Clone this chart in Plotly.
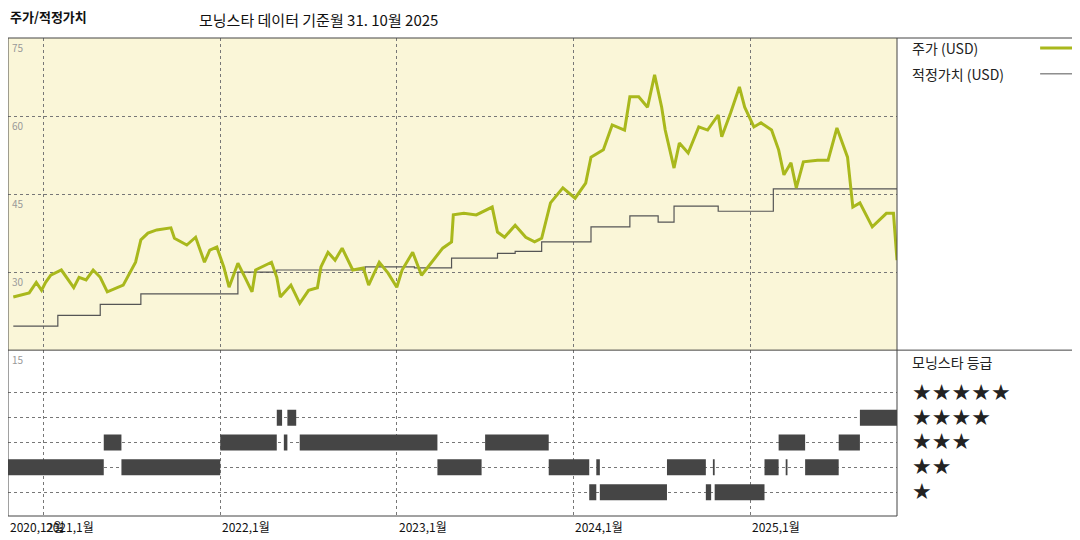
import pandas as pd
from plotly.subplots import make_subplots
import plotly.graph_objects as go

# values; dates are given as decimal years
price_t = [2020.83, 2020.92, 2020.96, 2020.99, 2021.01, 2021.04, 2021.10, 2021.14, 2021.17, 2021.20,
           2021.24, 2021.28, 2021.32, 2021.36, 2021.42, 2021.45, 2021.52, 2021.55, 2021.59, 2021.64,
           2021.72, 2021.74, 2021.81, 2021.86, 2021.91, 2021.94, 2021.98, 2022.02, 2022.05, 2022.10,
           2022.14, 2022.18, 2022.20, 2022.29, 2022.32, 2022.34, 2022.40, 2022.45, 2022.50, 2022.55,
           2022.57, 2022.61, 2022.65, 2022.69, 2022.75, 2022.81, 2022.84, 2022.90, 2022.95, 2023.00,
           2023.03, 2023.09, 2023.14, 2023.20, 2023.26, 2023.31, 2023.32, 2023.38, 2023.45, 2023.54,
           2023.57, 2023.61, 2023.67, 2023.73, 2023.78, 2023.82, 2023.87, 2023.94, 2024.01, 2024.07,
           2024.10, 2024.17, 2024.22, 2024.29, 2024.32, 2024.37, 2024.42, 2024.46, 2024.50, 2024.52,
           2024.57, 2024.60, 2024.65, 2024.71, 2024.76, 2024.82, 2024.84, 2024.89, 2024.94, 2024.97,
           2025.02, 2025.06, 2025.12, 2025.16, 2025.19, 2025.23, 2025.26, 2025.30, 2025.38, 2025.44,
           2025.49, 2025.55, 2025.58, 2025.62, 2025.69, 2025.77, 2025.81, 2025.83]
price = [25.2, 26, 28, 26.5, 28, 29.4, 30.4, 28.5, 27, 29,
         28.5, 30.4, 29, 26.2, 27, 27.5, 31.9, 36.2, 37.5, 38.1,
         38.5, 36.5, 35.2, 36.7, 31.9, 34.2, 34.8, 31, 27.1, 31.7,
         29, 26.2, 30.4, 31.9, 29, 25.2, 27.5, 24, 26.5, 27,
         31, 33.8, 32.3, 34.6, 30.4, 30.8, 27.5, 31.9, 29.8, 27.1,
         30.4, 33.8, 29.4, 31.9, 34.6, 35.8, 41, 41.3, 41, 42.5,
         37.7, 36.7, 39, 36.7, 35.8, 36.5, 43.3, 46.2, 44.2, 47.1,
         52.1, 53.5, 58.3, 57.3, 63.7, 63.7, 61.7, 67.9, 61.7, 57.3,
         50, 54.8, 52.9, 57.9, 57.3, 60.2, 56, 60.6, 65.6, 61.7,
         57.9, 58.7, 57.3, 53.5, 48.7, 51, 46.2, 51.2, 51.5, 51.5,
         57.7, 52.1, 42.5, 43.3, 38.7, 41.3, 41.3, 32.3]

fair_t = [2020.83, 2021.08, 2021.32, 2021.55, 2022.10, 2022.32, 2022.82, 2023.10, 2023.31, 2023.57,
          2023.67, 2023.82, 2024.10, 2024.32, 2024.48, 2024.57, 2024.82, 2025.13, 2025.83]
fair = [19.6, 21.7, 23.8, 25.8, 30.0, 30.4, 31, 30.8, 32.7, 33.6,
        34, 35.8, 38.7, 40.8, 39.6, 42.7, 41.7, 46, 46]

# star rating periods: start, end, stars
rate_start = [2020.80, 2021.34, 2021.44, 2022.00, 2022.32, 2022.36, 2022.38, 2022.45, 2023.23, 2023.50,
              2023.86, 2024.09, 2024.13, 2024.15, 2024.53, 2024.75, 2024.79, 2024.80, 2025.08, 2025.16,
              2025.20, 2025.31, 2025.50, 2025.62]
rate_end = [2021.34, 2021.44, 2022.00, 2022.32, 2022.35, 2022.38, 2022.43, 2023.23, 2023.48, 2023.86,
            2024.09, 2024.13, 2024.15, 2024.53, 2024.75, 2024.78, 2024.80, 2025.08, 2025.16, 2025.31,
            2025.21, 2025.50, 2025.62, 2025.83]
rate_stars = [2, 3, 2, 3, 4, 3, 4, 3, 2, 3,
              2, 1, 2, 1, 2, 1, 2, 1, 2, 3,
              2, 2, 3, 4]

price_ticks = [30, 45, 60, 75]
year_ticks = ["2021-01-01", "2022-01-01", "2023-01-01", "2024-01-01", "2025-01-01"]
year_labels = ["2021,1월", "2022,1월", "2023,1월", "2024,1월", "2025,1월"]
star_labels = ["★★★★★", "★★★★", "★★★", "★★", "★"]


def to_date(y):
    yr = int(y)
    return pd.Timestamp(f"{yr}-01-01") + pd.Timedelta(days=(y - yr) * 365.25)


GREEN = "#a9b81c"
GRID = dict(showgrid=True, gridcolor="#777", griddash="dot", gridwidth=1, zeroline=False)
FONT = "Noto Sans CJK KR"

fig = make_subplots(rows=2, cols=1, shared_xaxes=True, vertical_spacing=0,
                    row_heights=[0.653, 0.347])

fig.add_trace(go.Scatter(x=[to_date(t) for t in fair_t], y=fair, mode="lines",
                         line=dict(color="#555", width=1.2, shape="hv"),
                         showlegend=False), row=1, col=1)
fig.add_trace(go.Scatter(x=[to_date(t) for t in price_t], y=price, mode="lines",
                         line=dict(color=GREEN, width=3), showlegend=False), row=1, col=1)

for s, e, r in zip(rate_start, rate_end, rate_stars):
    fig.add_trace(go.Scatter(x=[to_date(s), to_date(e)], y=[r, r], mode="lines",
                             line=dict(color="#454545", width=16), showlegend=False),
                  row=2, col=1)

xr = [to_date(2020.80), to_date(2025.83)]
for r in (1, 2):
    fig.update_xaxes(range=xr, tickvals=[pd.Timestamp(d) for d in year_ticks],
                     showticklabels=False, **GRID, row=r, col=1)
fig.update_yaxes(range=[15, 75], tickvals=price_ticks, showticklabels=False, **GRID, row=1, col=1)
fig.update_yaxes(range=[0.04, 6.72], tickvals=[1, 2, 3, 4, 5], showticklabels=False, **GRID, row=2, col=1)

fig.add_shape(type="rect", xref="x domain", yref="y domain", x0=0, x1=1, y0=0, y1=1,
              fillcolor="#faf6d8", line_width=0, layer="below")

for v in price_ticks:
    fig.add_annotation(x=0, xref="x domain", y=v, yref="y", text=str(v), showarrow=False,
                       xanchor="left", yanchor="top", font=dict(size=10, color="#999"), xshift=2)
fig.add_annotation(x=0, xref="x2 domain", y=1, yref="y2 domain", text="15", showarrow=False,
                   xanchor="left", yanchor="top", font=dict(size=10, color="#999"), xshift=2)

fig.add_annotation(x=xr[0], xref="x2", y=0, yref="y2 domain", text="2020,12월", showarrow=False,
                   xanchor="left", yanchor="top", font=dict(size=12, color="#111"))
for d, lab in zip(year_ticks, year_labels):
    fig.add_annotation(x=pd.Timestamp(d), xref="x2", y=0, yref="y2 domain", text=lab,
                       showarrow=False, xanchor="left", yanchor="top",
                       font=dict(size=12, color="#111"))

# frame lines
R = 1.21
for x0, y0, x1, y1 in [(0, 1, R, 1), (0, 0.347, R, 0.347), (0, 0, 1, 0), (1, 0, 1, 1), (0, 0, 0, 1)]:
    fig.add_shape(type="line", xref="paper", yref="paper", x0=x0, y0=y0, x1=x1, y1=y1,
                  line=dict(color="#444", width=1))


def side_text(text, y, size=14, family=FONT):
    fig.add_annotation(x=1.0146, xref="paper", y=y, yref="paper", text=text, showarrow=False,
                       xanchor="left", yanchor="middle",
                       font=dict(size=size, color="#222", family=family))


side_text("주가 (USD)", 0.979)
side_text("적정가치 (USD)", 0.925)
fig.add_shape(type="line", xref="paper", yref="paper", x0=1.161, x1=1.200, y0=0.979, y1=0.979,
              line=dict(color=GREEN, width=3))
fig.add_shape(type="line", xref="paper", yref="paper", x0=1.161, x1=1.200, y0=0.925, y1=0.925,
              line=dict(color="#555", width=1))
side_text("모닝스타 등급", 0.322)
for lab, yy in zip(star_labels, [0.259, 0.207, 0.155, 0.103, 0.051]):
    side_text(lab, yy, size=22, family="DejaVu Sans")

fig.add_annotation(x=0, xref="paper", y=1.046, yref="paper", text="<b>주가/적정가치</b>",
                   showarrow=False, xanchor="left", yanchor="middle", font=dict(size=13, color="#111"))
fig.add_annotation(x=0.2126, xref="paper", y=1.038, yref="paper", text="모닝스타 데이터 기준월 31. 10월 2025",
                   showarrow=False, xanchor="left", yanchor="middle", font=dict(size=15, color="#111"))

fig.update_layout(width=1080, height=540, margin=dict(l=0, r=191, t=30, b=32),
                  plot_bgcolor="white", paper_bgcolor="white", font=dict(family=FONT))
fig.write_html("out.html")
